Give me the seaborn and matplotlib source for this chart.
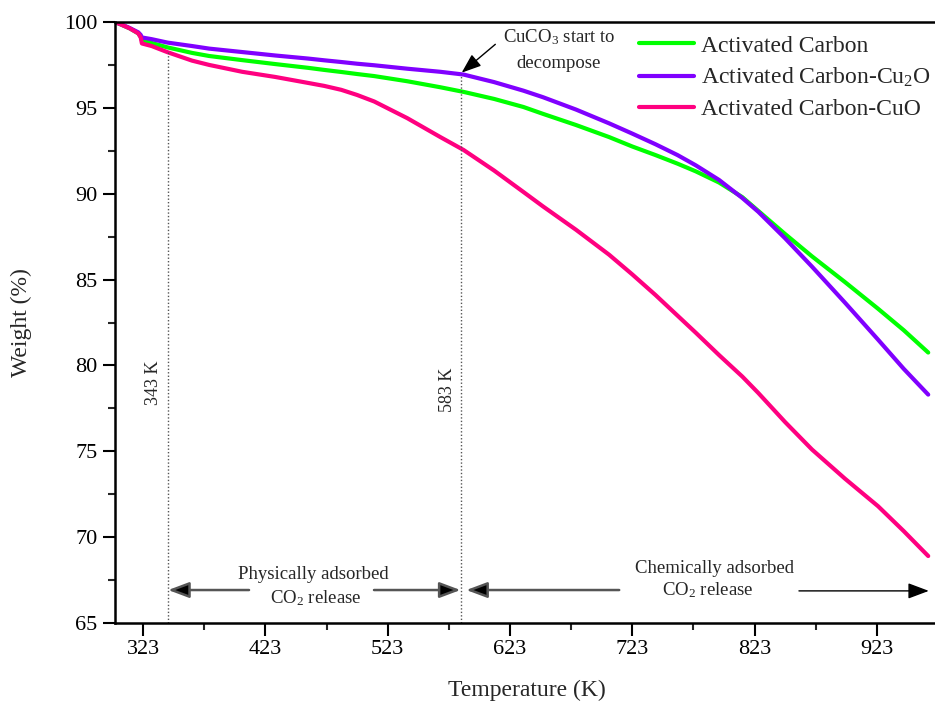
import numpy as np
import pandas as pd
import matplotlib
matplotlib.use("Agg")
import matplotlib.pyplot as plt
import seaborn as sns

# ---- data ----
temperature = [300, 305, 312, 319, 321, 322, 330, 343, 363, 377, 404, 431, 458,
               471, 485, 498, 512, 539, 566, 585, 610, 634, 650, 677, 704, 723,
               742, 760, 775, 794, 813, 826, 848, 870, 897, 924, 945, 965]
weight_ac = [100, 99.85, 99.63, 99.34, 99.15, 98.95, 98.78, 98.52, 98.2, 98.02,
             97.78, 97.55, 97.33, 97.21, 97.09, 96.97, 96.85, 96.55, 96.2, 95.93,
             95.52, 95.05, 94.65, 94.0, 93.3, 92.75, 92.25, 91.75, 91.3, 90.65,
             89.8, 89.0, 87.65, 86.35, 84.85, 83.3, 82.05, 80.75]
weight_ac_cu2o = [100, 99.87, 99.65, 99.4, 99.25, 99.1, 99.0, 98.8, 98.6, 98.45,
                  98.25, 98.05, 97.87, 97.77, 97.67, 97.57, 97.48, 97.28, 97.1,
                  96.94, 96.5, 96.0, 95.62, 94.9, 94.1, 93.5, 92.88, 92.25, 91.65,
                  90.8, 89.75, 88.95, 87.4, 85.75, 83.65, 81.5, 79.8, 78.3]
weight_ac_cuo = [100, 99.85, 99.63, 99.34, 99.1, 98.75, 98.6, 98.24, 97.75, 97.5,
                 97.1, 96.8, 96.45, 96.28, 96.05, 95.75, 95.37, 94.4, 93.3, 92.55,
                 91.35, 90.1, 89.26, 87.9, 86.45, 85.3, 84.1, 82.9, 81.9, 80.6,
                 79.35, 78.4, 76.7, 75.1, 73.4, 71.8, 70.35, 68.9]

series_names = ["Activated Carbon", "Activated Carbon-Cu$_2$O", "Activated Carbon-CuO"]
series_colors = ["#00FF00", "#8000FF", "#FF0080"]
x_ticks = [323, 423, 523, 623, 723, 823, 923]
x_minor = [373, 473, 573, 673, 773, 873, 973]
y_ticks = [65, 70, 75, 80, 85, 90, 95, 100]
y_minor = [67.5, 72.5, 77.5, 82.5, 87.5, 92.5, 97.5]

# ---- style ----
sns.set_theme(style="ticks")
plt.rcParams["font.family"] = ["Liberation Serif", "DejaVu Serif"]
plt.rcParams["mathtext.fontset"] = "custom"
plt.rcParams["mathtext.rm"] = "Liberation Serif"
plt.rcParams["mathtext.it"] = "Liberation Serif:italic"
plt.rcParams["mathtext.bf"] = "Liberation Serif:bold"

frames = []
for name, w in zip(series_names, [weight_ac, weight_ac_cu2o, weight_ac_cuo]):
    frames.append(pd.DataFrame({"Temperature": temperature, "Weight": w, "Sample": name}))
df = pd.concat(frames, ignore_index=True)

fig = plt.figure(figsize=(9.35, 7.01), dpi=100)
ax = fig.add_axes([115 / 935, 78 / 701, 823 / 935, 601 / 701])

sns.lineplot(data=df, x="Temperature", y="Weight", hue="Sample",
             hue_order=series_names, palette=dict(zip(series_names, series_colors)),
             linewidth=3, estimator=None, sort=False, ax=ax)
for ln in ax.lines:
    ln.set_solid_joinstyle("round")

ax.set_xlim(300, 300 + 823 / 1.232)
ax.set_ylim(65, 100)
ax.set_xticks(x_ticks)
ax.set_xticks(x_minor, minor=True)
ax.set_yticks(y_ticks)
ax.set_yticks(y_minor, minor=True)
ax.tick_params(which="major", direction="out", length=9, width=1.5, labelsize=16,
               colors="black", top=False, right=False)
ax.tick_params(which="minor", direction="out", length=5, width=1.5,
               top=False, right=False)
for s in ["left", "bottom", "top"]:
    ax.spines[s].set_linewidth(1.8)
    ax.spines[s].set_color("black")
ax.spines["right"].set_visible(False)

ax.set_xlabel("Temperature (K)", fontsize=17)
ax.set_ylabel("Weight (%)", fontsize=17)
ax.xaxis.set_label_coords(0.5, -0.095)
ax.yaxis.set_label_coords(-0.101, 0.5)

# legend
handles, labels = ax.get_legend_handles_labels()
ax.legend(handles, labels, loc="upper left", bbox_to_anchor=(0.637, 0.978),
          frameon=False, fontsize=17, handlelength=2.3, handletextpad=0.3,
          labelspacing=0.4, borderaxespad=0, borderpad=0)

# vertical dotted markers
ax.plot([343, 343], [65, 98.3], ls=(0, (1, 1.5)), color="#555555", lw=1)
ax.plot([583, 583], [65, 96.95], ls=(0, (1, 1.5)), color="#555555", lw=1)
ax.text(331.5, 79.0, "343 K", rotation=90, ha="center", va="center", fontsize=13)
ax.text(572, 78.6, "583 K", rotation=90, ha="center", va="center", fontsize=13)

# CuCO3 annotation
ax.text(663, 99.1, "CuCO$_3$ start to", ha="center", va="center", fontsize=13.5)
ax.text(663, 97.6, "decompose", ha="center", va="center", fontsize=13.5)
ax.annotate("", xy=(583.5, 97.05), xytext=(611, 98.7),
            arrowprops=dict(arrowstyle="-|>,head_length=0.8,head_width=0.3",
                            color="black", lw=1, mutation_scale=15,
                            shrinkA=0, shrinkB=0))

# bottom region arrows
arrow_y = 66.92
gray_arrow = dict(arrowstyle="-|>,head_length=0.8,head_width=0.3", ec="#555555",
                  fc="black", lw=1.8, mutation_scale=16, shrinkA=0, shrinkB=0)
ax.annotate("", xy=(343.5, arrow_y), xytext=(409.6, arrow_y), arrowprops=gray_arrow)
ax.annotate("", xy=(582.5, arrow_y), xytext=(511.8, arrow_y), arrowprops=gray_arrow)
ax.annotate("", xy=(587.3, arrow_y), xytext=(712.3, arrow_y), arrowprops=gray_arrow)
ax.annotate("", xy=(965.5, arrow_y - 0.05), xytext=(859.3, arrow_y - 0.05),
            arrowprops=dict(arrowstyle="-|>,head_length=0.8,head_width=0.3",
                            color="black", lw=1, mutation_scale=16,
                            shrinkA=0, shrinkB=0))
ax.text(462, 67.8, "Physically adsorbed", ha="center", va="center", fontsize=13.5)
ax.text(464, 66.45, "CO$_2$ release", ha="center", va="center", fontsize=13.5)
ax.text(790, 68.2, "Chemically adsorbed", ha="center", va="center", fontsize=13.5)
ax.text(785, 66.93, "CO$_2$ release", ha="center", va="center", fontsize=13.5)

fig.savefig("out.png", dpi=100)
